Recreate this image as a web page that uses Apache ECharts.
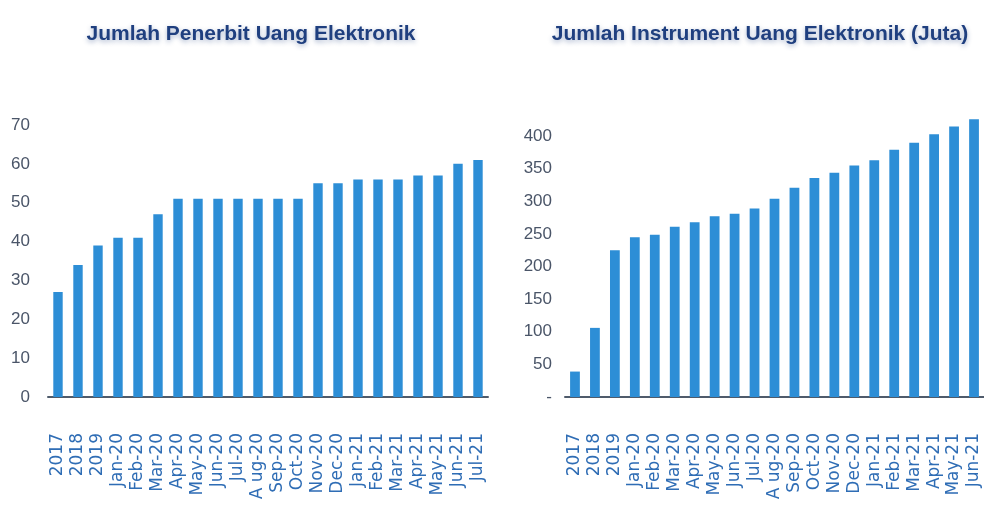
<!DOCTYPE html>
<html><head><meta charset="utf-8">
<script src="https://cdn.jsdelivr.net/npm/echarts@6/dist/echarts.min.js"></script>
<style>html,body{margin:0;padding:0;background:#fff}#c{width:984px;height:516px}</style>
</head><body><div id="c"></div>
<script>
const titleLeft = 'Jumlah Penerbit Uang Elektronik';
const titleRight = 'Jumlah Instrument Uang Elektronik (Juta)';
const categoriesLeft = ['2017','2018','2019','Jan-20','Feb-20','Mar-20','Apr-20','May-20','Jun-20','Jul-20','A ug-20','Sep-20','Oct-20','Nov-20','Dec-20','Jan-21','Feb-21','Mar-21','Apr-21','May-21','Jun-21','Jul-21'];
const penerbitValues = [27,34,39,41,41,47,51,51,51,51,51,51,51,55,55,56,56,56,57,57,60,61];
const categoriesRight = ['2017','2018','2019','Jan-20','Feb-20','Mar-20','Apr-20','May-20','Jun-20','Jul-20','A ug-20','Sep-20','Oct-20','Nov-20','Dec-20','Jan-21','Feb-21','Mar-21','Apr-21','May-21','Jun-21'];
const instrumentValues = [39,106,225,245,249,261,268,277,281,289,304,321,336,344,355,363,379,390,403,415,426];
const leftTicks = {min:0, max:70, interval:10};
const rightTicks = {min:0, max:430, interval:50};

const barColor = '#2d8ed6';
const axisColor = '#4f5b6b';
const titleStyle = {fontSize:21, fontWeight:'bold', color:'#1f3f7f', fontFamily:'Liberation Sans',
  textShadowColor:'rgba(31,63,127,0.4)', textShadowBlur:5, textShadowOffsetY:2};
const xLabel = {rotate:90, interval:0, margin:36, fontSize:17, color:'#2f6db5', fontFamily:'DejaVu Sans'};
const yLabel = {fontSize:17, color:'#4a5568', fontFamily:'Liberation Sans'};

const chart = echarts.init(document.getElementById('c'));
chart.setOption({
  animation:false,
  backgroundColor:'#ffffff',
  title:[
    {text:titleLeft, left:251, top:24, padding:0, textAlign:'center', textStyle:titleStyle},
    {text:titleRight, left:760, top:24, padding:0, textAlign:'center', textStyle:titleStyle}
  ],
  grid:[
    {left:48, top:125, width:440, height:272},
    {left:565, top:116.6, width:426, height:280.4}
  ],
  xAxis:[
    {type:'category', gridIndex:0, data:categoriesLeft, axisTick:{show:false},
     axisLine:{lineStyle:{color:axisColor, width:2}}, axisLabel:xLabel},
    {type:'category', gridIndex:1, data:categoriesRight, axisTick:{show:false},
     axisLine:{lineStyle:{color:axisColor, width:2}}, axisLabel:xLabel}
  ],
  yAxis:[
    {type:'value', gridIndex:0, min:leftTicks.min, max:leftTicks.max, interval:leftTicks.interval,
     splitLine:{show:false}, axisLine:{show:false}, axisTick:{show:false},
     axisLabel:Object.assign({margin:18}, yLabel)},
    {type:'value', gridIndex:1, min:rightTicks.min, max:rightTicks.max, interval:rightTicks.interval,
     splitLine:{show:false}, axisLine:{show:false}, axisTick:{show:false},
     axisLabel:Object.assign({margin:13, showMaxLabel:false, formatter:v => v === 0 ? '-' : String(v)}, yLabel)}
  ],
  series:[
    {type:'bar', xAxisIndex:0, yAxisIndex:0, data:penerbitValues, barWidth:'47%', itemStyle:{color:barColor}},
    {type:'bar', xAxisIndex:1, yAxisIndex:1, data:instrumentValues, barWidth:'49%', itemStyle:{color:barColor}}
  ]
});
</script>
</body></html>
